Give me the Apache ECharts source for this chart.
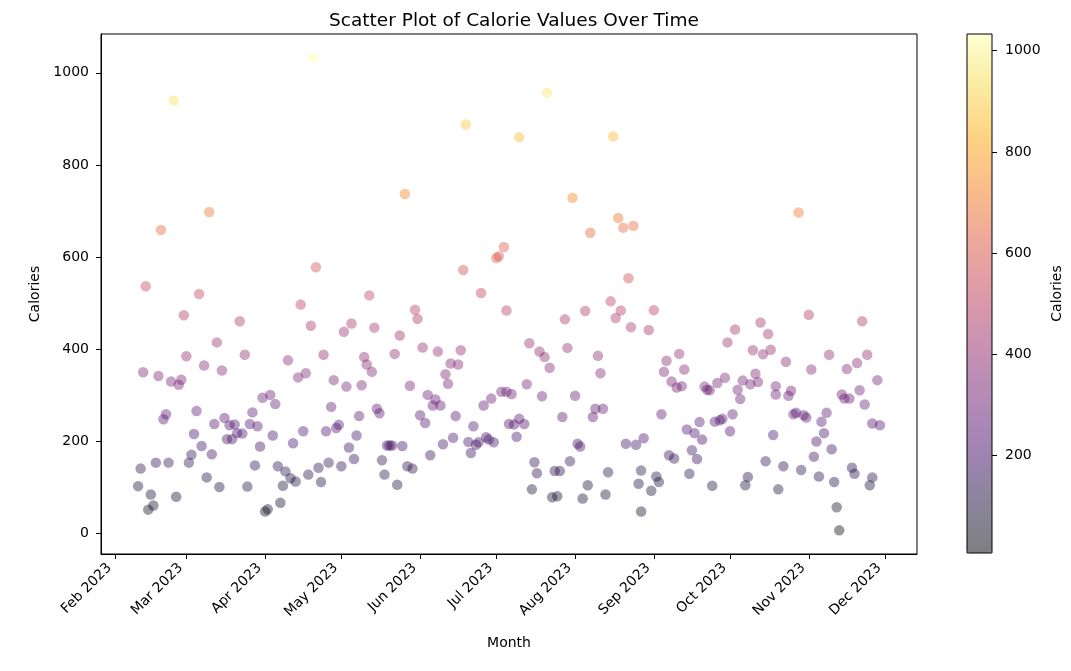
<!DOCTYPE html>
<html>
<head>
<meta charset="utf-8">
<script src="https://cdn.jsdelivr.net/npm/echarts@6/dist/echarts.min.js"></script>
<style>
html,body{margin:0;padding:0;background:#fff}
#chart{width:1071px;height:671px}
</style>
</head>
<body>
<div id="chart"></div>
<script>
// days counted from 1 Feb 2023
const days = [
  9,10,11,12,13,14,15,16,17,18,
  19,20,21,22,23,24,25,26,27,28,
  29,30,31,32,33,34,35,36,37,38,
  39,40,41,42,43,44,45,46,47,48,
  49,50,51,52,53,54,55,56,57,58,
  59,60,61,62,63,64,65,66,67,68,
  69,70,71,72,73,74,75,76,77,78,
  79,80,81,82,83,84,85,86,87,88,
  89,90,91,92,93,94,95,96,97,98,
  99,100,101,102,103,104,105,106,107,108,
  109,110,111,112,113,114,115,116,117,118,
  119,120,121,122,123,124,125,126,127,128,
  129,130,131,132,133,134,135,136,137,138,
  139,140,141,142,143,144,145,146,147,148,
  149,150,151,152,153,154,154,155,156,157,
  158,159,159,161,162,163,164,165,166,167,
  168,169,170,171,172,173,174,175,176,177,
  178,179,180,181,182,183,184,185,186,187,
  188,189,190,191,192,193,194,195,196,197,
  198,199,200,201,202,203,204,205,206,207,
  207,208,210,211,212,213,214,215,216,217,
  218,219,220,221,222,223,224,225,226,227,
  228,229,230,231,232,233,234,235,236,237,
  238,239,240,241,242,243,244,245,246,247,
  248,249,250,251,252,253,254,255,256,257,
  258,259,260,260,261,263,264,265,266,267,
  268,269,270,271,272,273,274,275,276,277,
  278,279,280,281,282,283,284,285,286,287,
  288,289,290,291,292,293,294,295,296,297,
  298,298,300,301
];
const calories = [
  103,141,350,537,52,85,61,154,342,659,
  248,259,154,330,940,80,323,334,474,385,
  154,171,216,266,520,190,365,122,698,172,
  238,415,101,354,251,205,235,205,237,218,
  461,217,388,102,238,263,148,233,189,295,
  48,53,301,213,281,146,67,104,135,376,
  120,196,113,339,497,222,348,128,451,1033,
  578,143,112,388,222,154,275,333,229,236,
  146,438,319,187,456,162,213,255,322,383,
  367,517,351,447,271,261,159,128,191,191,
  191,390,106,430,190,737,146,321,141,486,
  466,257,404,240,301,170,278,291,395,278,
  194,346,325,369,208,255,367,398,572,888,
  199,175,233,193,198,522,278,209,204,293,
  198,598,602,308,622,308,484,238,303,237,
  210,249,860,238,324,413,96,155,131,395,
  298,383,957,360,79,136,81,136,253,465,
  403,157,729,299,195,189,76,483,105,653,
  253,271,386,348,271,85,133,504,862,468,
  685,484,664,195,554,448,668,193,108,137,
  48,207,442,93,485,124,112,259,351,375,
  170,330,163,317,390,320,356,226,130,181,
  218,162,242,204,319,312,311,104,243,327,
  246,249,338,415,222,259,443,312,292,332,
  105,123,324,398,347,329,458,389,157,433,
  399,214,302,320,96,146,373,299,310,259,
  262,697,138,257,252,475,356,167,200,124,
  243,218,262,388,183,112,57,7,302,293,
  357,293,143,130,370,311,461,280,388,105,
  122,239,333,235
];
const monthLabels = ['Feb 2023','Mar 2023','Apr 2023','May 2023','Jun 2023','Jul 2023',
                     'Aug 2023','Sep 2023','Oct 2023','Nov 2023','Dec 2023'];
const yTicks = [0,200,400,600,800,1000];
const barTicks = [200,400,600,800,1000];

// inferno colormap, drawn at alpha 0.5
const inferno = ['#000004','#160b39','#420a68','#6a176e','#932667','#bc3754',
                 '#dd513a','#f37819','#fca50a','#f6d746','#fcffa4'];
function fade(hex){
    let r=parseInt(hex.slice(1,3),16), g=parseInt(hex.slice(3,5),16), b=parseInt(hex.slice(5,7),16);
    return 'rgba('+r+','+g+','+b+',0.5)';
}

const DAY = 86400000;
const feb1 = Date.UTC(2023,1,1);
let monthStarts = [];
for(let i in monthLabels){
    monthStarts.push(Date.UTC(2023,1+Number(i),1));
}
let points = [];
for(let i in days){
    points.push([feb1+days[i]*DAY, calories[i]]);
}
let cMin = Math.min(...calories), cMax = Math.max(...calories);
let span = days[days.length-1]-days[0];
let cSpan = cMax-cMin;
let plain = (v) => String(v);

const font = 'DejaVu Sans';
let chart = echarts.init(document.getElementById('chart'));
let option = {
    animation:false,
    textStyle:{fontFamily:font},
    title:{
        text:'Scatter Plot of Calorie Values Over Time',
        left:509, top:7, textAlign:'center',
        textStyle:{fontFamily:font,fontSize:18.5,fontWeight:'normal',color:'#000'}
    },
    grid:[
        {left:101, top:34, width:816, height:520, show:true, borderColor:'#000', borderWidth:1, backgroundColor:'transparent'},
        {left:967, top:34, width:25, height:519, show:true, borderColor:'#000', borderWidth:1, backgroundColor:'transparent', z:10}
    ],
    xAxis:[
        {
            type:'value', gridIndex:0, scale:true,
            min:feb1+(days[0]-span*0.05)*DAY,
            max:feb1+(days[days.length-1]+span*0.05)*DAY,
            name:'Month', nameLocation:'middle', nameGap:82,
            nameTextStyle:{fontSize:14,color:'#000'},
            splitLine:{show:false},
            axisLine:{onZero:false,lineStyle:{color:'#000',width:1}},
            axisTick:{customValues:monthStarts,length:5,lineStyle:{color:'#000'}},
            axisLabel:{
                customValues:monthStarts, rotate:45, margin:6, padding:[0,8,0,0],
                fontSize:14, color:'#000',
                formatter:function(v){
                    let i = monthStarts.indexOf(v);
                    return i>=0 ? monthLabels[i] : '';
                }
            }
        },
        {type:'value', gridIndex:1, show:false, min:0, max:1}
    ],
    yAxis:[
        {
            type:'value', gridIndex:0,
            min:cMin-cSpan*0.05, max:cMax+cSpan*0.05,
            name:'Calories', nameLocation:'middle', nameGap:52, nameRotate:90,
            nameTextStyle:{fontSize:14,color:'#000'},
            splitLine:{show:false},
            axisLine:{show:true,onZero:false,lineStyle:{color:'#000',width:1}},
            axisTick:{show:true,customValues:yTicks,length:5,lineStyle:{color:'#000'}},
            axisLabel:{customValues:yTicks,margin:12,fontSize:14,color:'#000',formatter:plain}
        },
        {
            type:'value', gridIndex:1, position:'right', z:20,
            min:cMin, max:cMax,
            name:'Calories', nameLocation:'middle', nameGap:58, nameRotate:90,
            nameTextStyle:{fontSize:14,color:'#000'},
            splitLine:{show:false},
            axisLine:{show:false,onZero:false},
            axisTick:{show:true,inside:false,customValues:barTicks,length:5,lineStyle:{color:'#000'}},
            axisLabel:{customValues:barTicks,margin:13,fontSize:14,color:'#000',formatter:plain}
        }
    ],
    visualMap:{
        type:'continuous', seriesIndex:0, dimension:1,
        min:cMin, max:cMax,
        left:967, top:34, itemWidth:25, itemHeight:519,
        padding:0, calculable:false, text:null,
        inRange:{color:inferno.map(fade)},
        outOfRange:{color:['rgba(255,255,255,0)']}
    },
    series:[{
        type:'scatter',
        xAxisIndex:0, yAxisIndex:0,
        symbolSize:10.5,
        data:points
    }]
};
chart.setOption(option);
</script>
</body>
</html>
